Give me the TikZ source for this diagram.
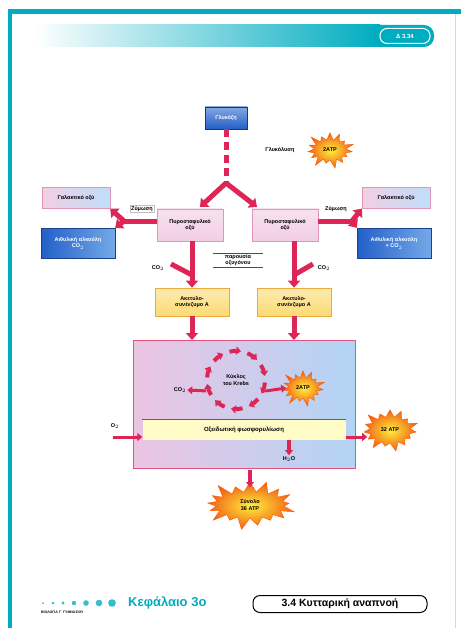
\documentclass[tikz,border=0pt]{standalone}
\usepackage{fontspec}
\setmainfont{Liberation Sans}
\usetikzlibrary{shapes.geometric,shapes.symbols,arrows.meta,calc}
\definecolor{tealc}{RGB}{0,172,192}
\definecolor{redc}{RGB}{222,38,86}
\definecolor{pinkf}{RGB}{242,206,228}
\definecolor{pinkb}{RGB}{225,150,185}
\definecolor{bluedk}{RGB}{35,95,200}
\definecolor{bluelt}{RGB}{150,200,245}
\definecolor{yellf}{RGB}{252,218,115}
\definecolor{yellb}{RGB}{235,170,60}
\definecolor{boxblue}{RGB}{178,212,245}
\definecolor{boxpink}{RGB}{236,196,226}
\definecolor{starin}{RGB}{255,238,60}
\definecolor{starout}{RGB}{240,95,20}
\tikzset{
  lbl/.style={font=\fontsize{5.5}{6.5}\selectfont\bfseries, align=center, inner sep=1pt},
  redln/.style={draw=redc, line width=5pt},
  redarr/.style={draw=redc, line width=5pt, -{Triangle[length=7pt,width=12pt]}},
  thinarr/.style={draw=redc, line width=3pt, -{Triangle[length=5pt,width=8pt]}},
  pinkbox/.style={lbl, draw=pinkb, line width=0.8pt, top color=pinkf!60!white, bottom color=pinkf, minimum width=66pt, minimum height=32pt},
  yellbox/.style={lbl, draw=yellb, line width=0.6pt, top color=yellf!55!white, bottom color=yellf, minimum width=74pt, minimum height=28pt},
  bluebox/.style={lbl, text=white, draw=bluedk!70!black, left color=bluedk, right color=bluelt!70!bluedk, minimum width=74pt, minimum height=30pt},
  lacbox/.style={lbl, draw=pinkb, left color=pinkf, right color=bluelt!60!white, minimum width=68pt, minimum height=21pt},
  burst/.style={lbl, starburst, starburst points=15, starburst point height=10pt, draw=orange!70!red, line width=0.4pt, inner color=starin, outer color=starout},
}
\begin{document}
\begin{tikzpicture}[x=1pt,y=-1pt]
\useasboundingbox (0,0) rectangle (461,628);
\fill[white] (0,0) rectangle (461,628);
% frame
\fill[tealc] (8,9) rectangle (461,14);
\fill[tealc] (8,9) rectangle (12,628);
\draw[tealc!30, line width=0.6pt] (455,14) -- (455,628);
% header
\shade[left color=white, right color=tealc] (35,25) rectangle (380,47);
\fill[tealc, rounded corners=10pt] (370,25) rectangle (434,47);
\node[lbl, text=white, draw=white, line width=1pt, rounded corners=7pt, minimum width=50pt, minimum height=15pt, font=\fontsize{6}{7}\selectfont\bfseries] (tab) at (405,36) {Δ 3.34};

% glucose
\node[lbl, text=white, draw=bluedk!60!black, top color=bluedk!55!white, bottom color=bluedk, minimum width=42pt, minimum height=22pt] (glu) at (226,118) {Γλυκόζη};
\node[lbl] (glyc) at (280,150) {Γλυκόλυση};
\node[burst, minimum width=52pt, minimum height=40pt] (atp1) at (330,150) {2ATP};

% pyruvate
\node[pinkbox] (pyrL) at (190,225) {Πυροσταφυλικό\\οξύ};
\node[pinkbox] (pyrR) at (285,225) {Πυροσταφυλικό\\οξύ};

\coordinate (fork) at (226,183);
\draw[redln, dash pattern=on 8pt off 5pt] (glu.south) -- (fork);
\draw[redarr] (fork) -- (200,207);
\draw[redarr] (fork) -- (257,207);

% left fermentation
\node[lacbox] (lacL) at (76,198) {Γαλακτικό οξύ};
\node[bluebox] (ethL) at (78,243) {Αιθυλική αλκοόλη\\CO$_2$};
\node[lbl, fill=white, draw=gray!50, line width=0.3pt] (zymL) at (142,209) {Ζύμωση};
\coordinate (fkL) at (124,221);
\draw[redln] (pyrL.west |- fkL) -- (fkL);
\draw[redarr] (fkL) -- (lacL.south east);
\draw[redarr] (fkL) -- (ethL.north east);

% right fermentation
\node[lacbox] (lacR) at (396,198) {Γαλακτικό οξύ};
\node[bluebox] (ethR) at (394,243) {Αιθυλική αλκοόλη\\+ CO$_2$};
\node[lbl, fill=white] (zymR) at (336,209) {Ζύμωση};
\coordinate (fkR) at (352,221);
\draw[redln] (pyrR.east |- fkR) -- (fkR);
\draw[redarr] (fkR) -- (lacR.south west);
\draw[redarr] (fkR) -- (ethR.north west);

% presence of oxygen
\node[lbl, minimum width=50pt] (oxy) at (238,260) {παρουσία\\οξυγόνου};
\draw[black!70, line width=0.6pt] (oxy.north west) -- (oxy.north east);
\draw[black!70, line width=0.6pt] (oxy.south west) -- (oxy.south east);

% acetyl CoA
\node[yellbox] (acL) at (192,302) {Ακετυλο-\\συνένζυμο Α};
\node[yellbox] (acR) at (294,302) {Ακετυλο-\\συνένζυμο Α};
\draw[redarr] (pyrL.south -| acL) -- (acL.north);
\draw[redarr] (pyrR.south -| acR) -- (acR.north);
\coordinate (brL) at (192,275);
\coordinate (brR) at (294,275);
\draw[redln] (brL) -- (171,264);
\draw[redln] (brR) -- (313,264);
\node[lbl] (co2a) at (158,268) {CO$_2$};
\node[lbl] (co2b) at (324,268) {CO$_2$};

% big box
\path[draw=redc!60!pinkb, line width=1pt, left color=boxpink, right color=boxblue] (133,340) rectangle (355,468);
\coordinate (bbL) at (192,340);
\coordinate (bbR) at (294,340);
\draw[redarr] (acL.south) -- (bbL);
\draw[redarr] (acR.south) -- (bbR);

% Krebs
\coordinate (kc) at (236,380);
\node[lbl] (krebs) at (kc) {Κύκλος\\του Krebs};
\foreach \a in {0,36,...,324}{
  \draw[thinarr, line width=4pt] ($(kc)+(\a+5:29)$) arc[start angle=\a+5, end angle=\a+28, radius=29];
}
\node[lbl] (co2c) at (180,390) {CO$_2$};
\draw[thinarr] ($(kc)+(160:32)$) -- (co2c.east);
\node[burst, minimum width=48pt, minimum height=40pt] (atp2) at (303,388) {2ATP};
\draw[thinarr] ($(kc)+(20:32)$) -- (atp2.west);

% oxidative phosphorylation
\node[lbl, fill=yellow!22, minimum width=203pt, minimum height=20pt, font=\fontsize{6}{7}\selectfont\bfseries] (oxph) at (244,430) {Οξειδωτική φωσφορυλίωση};
\draw[redc, line width=0.8pt] (oxph.north west) -- (oxph.north east);
\node[lbl] (o2) at (115,426) {O$_2$};
\coordinate (o2s) at (113,437);
\draw[thinarr] (o2s) -- (oxph.west |- o2s);
\node[burst, minimum width=60pt, minimum height=46pt] (atp3) at (390,430) {32 ATP};
\draw[thinarr] (oxph.east |- o2s) -- (atp3.west |- o2s);
\node[lbl] (h2o) at (289,459) {H$_2$O};
\draw[thinarr, line width=4pt] (oxph.south -| h2o) -- (h2o.north);

% total
\node[burst, starburst points=17, starburst point height=14pt, minimum width=96pt, minimum height=54pt] (tot) at (250,505) {Σύνολο\\36 ATP};
\coordinate (tarr) at (250,470);
\draw[thinarr, line width=4pt] (tarr) -- (250,487);

% footer
\foreach \x/\r in {43/1.0,53/1.3,63/1.7,74/2.2,86/2.8,99/3.3,112/3.8}{
  \fill[tealc!80] (\x,603) circle[radius=\r];
}
\node[lbl, font=\fontsize{3.5}{4}\selectfont\bfseries, anchor=west] (ft) at (40,612) {ΒΙΟΛΟΓΙΑ Γ΄ ΓΥΜΝΑΣΙΟΥ};
\node[font=\fontsize{13}{14}\selectfont\bfseries, text=tealc, anchor=west, inner sep=0pt] (kef) at (128,603) {Κεφάλαιο 3ο};
\node[font=\fontsize{10.5}{11.5}\selectfont\bfseries, draw=black, line width=1pt, rounded corners=7pt, minimum width=174pt, minimum height=17pt, inner sep=1pt] (sec) at (340,604) {3.4 Κυτταρική αναπνοή};
\end{tikzpicture}
\end{document}
